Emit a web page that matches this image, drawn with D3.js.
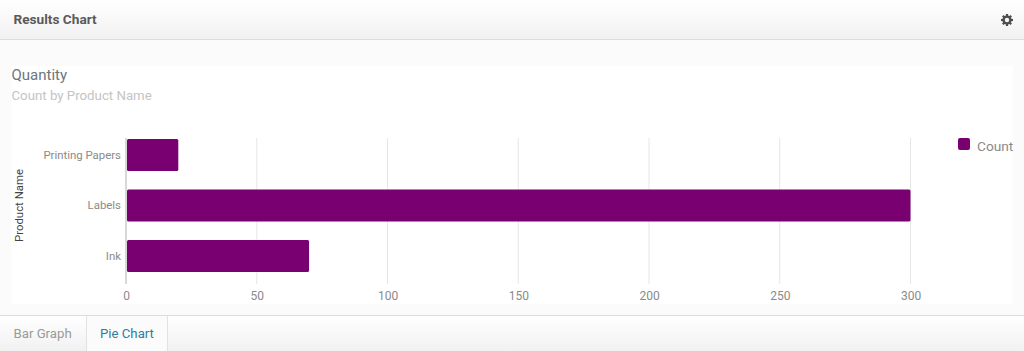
<!DOCTYPE html>
<html>
<head>
<meta charset="utf-8">
<script src="https://cdn.jsdelivr.net/npm/d3@7"></script>
<style>
  html, body { margin: 0; padding: 0; background: #fbfbfb; overflow: hidden; }
  svg { display: block; font-family: Roboto, sans-serif; }
</style>
</head>
<body>
<div id="chart"></div>
<script>
const categories = ["Printing Papers", "Labels", "Ink"];
const counts = [20, 300, 70];
const xTicks = [0, 50, 100, 150, 200, 250, 300];
const tabs = ["Bar Graph", "Pie Chart"];

const width = 1024, height = 351;
const margin = { top: 138, left: 126 };
const plotW = 784.5, plotH = 146;

const svg = d3.select("#chart").append("svg")
  .attr("width", width)
  .attr("height", height);

const defs = svg.append("defs");
const grad = defs.append("linearGradient").attr("id", "bandGrad")
  .attr("x1", 0).attr("y1", 0).attr("x2", 0).attr("y2", 1);
grad.append("stop").attr("offset", "0%").attr("stop-color", "#ffffff");
grad.append("stop").attr("offset", "100%").attr("stop-color", "#f1f1f1");

// page header
svg.append("rect").attr("width", width).attr("height", 39).attr("fill", "url(#bandGrad)");
svg.append("line").attr("x1", 0).attr("x2", width).attr("y1", 39.5).attr("y2", 39.5)
  .attr("stroke", "#dcdcdc");
svg.append("text").attr("x", 13.5).attr("y", 23.5)
  .attr("font-size", 13.65).attr("font-weight", 700).attr("fill", "#5a5a5a")
  .text("Results Chart");

// gear icon
const gear = svg.append("g").attr("transform", "translate(1007,20)");
gear.selectAll("line").data(d3.range(0, 180, 45)).join("line")
  .attr("x1", -6).attr("x2", 6)
  .attr("transform", (d) => `rotate(${d})`)
  .attr("stroke", "#4d4d4d").attr("stroke-width", 2.2);
gear.append("circle").attr("r", 3.4).attr("fill", "#f5f5f5")
  .attr("stroke", "#4d4d4d").attr("stroke-width", 2.4);

// white chart panel
svg.append("rect").attr("x", 11).attr("y", 66).attr("width", 1002).attr("height", 238)
  .attr("fill", "#ffffff");

svg.append("text").attr("x", 11.5).attr("y", 80)
  .attr("font-size", 15).attr("fill", "#6c757d").text("Quantity");
svg.append("text").attr("x", 11.5).attr("y", 100)
  .attr("font-size", 13.25).attr("fill", "#c4c4c4").text("Count by Product Name");

const g = svg.append("g").attr("transform", `translate(${margin.left}, ${margin.top})`);

const x = d3.scaleLinear().domain([0, 300]).range([0, plotW]);
const y = d3.scaleBand().domain(categories).range([1, 134]).paddingInner(0.366).paddingOuter(0);

// grid
g.append("g").selectAll("line").data(xTicks.slice(1)).join("line")
  .attr("x1", (d) => x(d)).attr("x2", (d) => x(d))
  .attr("y1", 0).attr("y2", plotH)
  .attr("stroke", "#e6e6e6");

// bars
g.append("g").selectAll("rect").data(categories).join("rect")
  .attr("x", 1)
  .attr("y", (d) => y(d))
  .attr("width", (d, i) => x(counts[i]) - 1)
  .attr("height", y.bandwidth())
  .attr("rx", 1.5)
  .attr("fill", "#780070");

// axes
const xAxis = g.append("g").attr("transform", `translate(0, ${plotH})`)
  .call(d3.axisBottom(x).tickValues(xTicks).tickSize(0).tickPadding(7));
xAxis.select(".domain").remove();
xAxis.selectAll("text").attr("font-size", 12).attr("font-family", "Roboto, sans-serif").attr("fill", "#8a8a8a");

const yAxis = g.append("g")
  .call(d3.axisLeft(y).tickSize(0).tickPadding(5));
yAxis.select(".domain").remove();
yAxis.selectAll("text").attr("font-size", 11.4).attr("font-family", "Roboto, sans-serif").attr("fill", "#8a8a8a");

g.append("line").attr("x1", 0).attr("x2", 0).attr("y1", 0).attr("y2", plotH)
  .attr("stroke", "#c8c8c8").attr("stroke-width", 1.4);

svg.append("text")
  .attr("text-anchor", "middle")
  .attr("transform", "rotate(-90)")
  .attr("x", -205.5).attr("y", 22.5)
  .attr("font-size", 11.4).attr("fill", "#444")
  .text("Product Name");

// legend
svg.append("rect").attr("x", 958).attr("y", 138).attr("width", 12).attr("height", 12)
  .attr("rx", 2).attr("fill", "#780070");
svg.append("text").attr("x", 977).attr("y", 151)
  .attr("font-size", 13.7).attr("fill", "#8a8a8a").text("Count");

// tabs at the bottom
svg.append("rect").attr("y", 316).attr("width", width).attr("height", 35).attr("fill", "url(#bandGrad)");
svg.append("line").attr("x1", 0).attr("x2", width).attr("y1", 315.5).attr("y2", 315.5)
  .attr("stroke", "#dcdcdc");
svg.append("rect").attr("x", 86).attr("y", 316).attr("width", 81).attr("height", 35).attr("fill", "#fbfbfb");
svg.selectAll("line.tabEdge").data([86.5, 167.5]).join("line")
  .attr("class", "tabEdge")
  .attr("x1", (d) => d).attr("x2", (d) => d)
  .attr("y1", 316).attr("y2", 351)
  .attr("stroke", "#e2e2e2");
svg.append("text").attr("x", 13.5).attr("y", 338)
  .attr("font-size", 13.2).attr("fill", "#9a9a9a").text(tabs[0]);
svg.append("text").attr("x", 100).attr("y", 338)
  .attr("font-size", 13.2).attr("fill", "#2a7f9e").text(tabs[1]);
</script>
</body>
</html>
